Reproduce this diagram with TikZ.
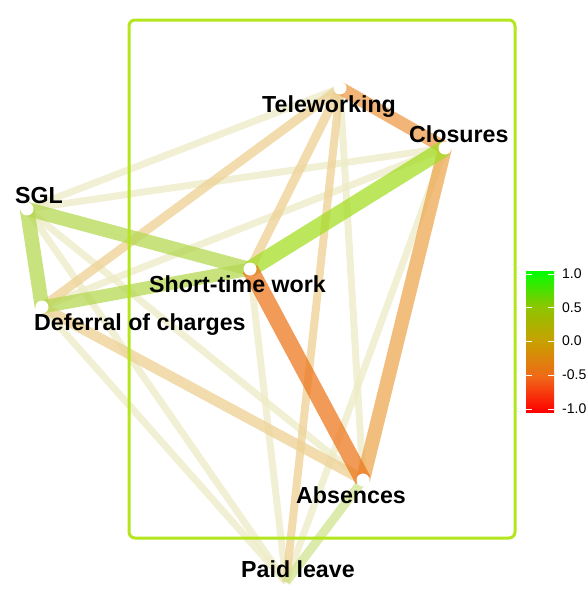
\documentclass[tikz,border=0pt]{standalone}
\usepackage{fontspec}
\setmainfont{Liberation Sans}
\usetikzlibrary{calc}

\definecolor{framegreen}{HTML}{B4E61E}
\definecolor{negstrong}{HTML}{ED7820}
\definecolor{negmid}{HTML}{ED9B49}
\definecolor{negsoft}{HTML}{EDA853}
\definecolor{posstrong}{HTML}{A5DD26}
\definecolor{posmid}{HTML}{B5D853}
\definecolor{possoft}{HTML}{D0E490}
\definecolor{tanweak}{HTML}{EDD093}
\definecolor{faintweak}{HTML}{EDEBC5}
\definecolor{cbpos}{HTML}{8CC600}
\definecolor{cbzero}{HTML}{C8A000}
\definecolor{cbneg}{HTML}{F06818}

\pgfdeclareverticalshading{corrbar}{100bp}{color(0bp)=(red); color(25bp)=(red);
  color(37.5bp)=(cbneg); color(50bp)=(cbzero); color(62.5bp)=(cbpos);
  color(75bp)=(green); color(100bp)=(green)}

\begin{document}
\begin{tikzpicture}[x=1pt,y=-1pt,
    corr/.style 2 args={draw=#1,line width=#2,draw opacity=0.75},
    vtx/.style={circle,fill=white,inner sep=0pt,minimum size=12pt},
    lbl/.style={font=\fontsize{23.2}{27}\selectfont\bfseries,inner sep=0pt,anchor=base west},
    tick/.style={white,line width=0.6pt}]
  \useasboundingbox (0,0) rectangle (588,600);

  % node positions
  \node[vtx] (tele) at (340,88) {};
  \node[vtx] (clos) at (445,148) {};
  \node[vtx] (sgl)  at (27,209) {};
  \node[vtx] (stw)  at (250,269) {};
  \node[vtx] (defc) at (42,307) {};
  \node[vtx] (abs)  at (363,480) {};
  \coordinate (paid) at (286,582);

  % weak correlations
  \foreach \a/\b in {tele/abs,clos/paid,stw/paid,sgl/abs,sgl/paid,defc/paid,clos/defc,clos/sgl,tele/sgl}
    \draw[corr={faintweak}{7pt}] (\a.center) -- (\b.center);
  \foreach \a/\b/\w in {tele/paid/8pt,tele/stw/9pt,tele/defc/9pt,defc/abs/10.5pt}
    \draw[corr={tanweak}{\w}] (\a.center) -- (\b.center);
  \draw[corr={possoft}{9pt}] (abs.center) -- (paid);

  % strong correlations
  \draw[corr={negmid}{13pt}] (tele.center) -- (clos.center);
  \draw[corr={negsoft}{14pt}] (clos.center) -- (abs.center);
  \draw[corr={posmid}{14.5pt}] (sgl.center) -- (defc.center);
  \draw[corr={posmid}{14pt}] (sgl.center) -- (stw.center);
  \draw[corr={posmid}{13pt}] (defc.center) -- (stw.center);
  \draw[corr={posstrong}{16.5pt}] (clos.center) -- (stw.center);
  \draw[corr={negstrong}{16.5pt}] (stw.center) -- (abs.center);

  % frame
  \draw[framegreen,line width=3pt,rounded corners=6pt] (129,20) rectangle (515,538);

  % dots on top
  \foreach \n in {tele,clos,sgl,stw,defc,abs}
    \fill[white] (\n) circle (6.5pt);

  % labels
  \node[lbl] (teletxt) at (262,112) {Teleworking};
  \node[lbl] (clostxt) at (409,142) {Closures};
  \node[lbl] (sgltxt)  at (15,203) {SGL};
  \node[lbl] (stwtxt)  at (149,292) {Short-time work};
  \node[lbl] (defctxt) at (34,330) {Deferral of charges};
  \node[lbl] (abstxt)  at (296,503) {Absences};
  \node[lbl] (paidtxt) at (241,577) {Paid leave};

  % colour bar
  \shade[shading=corrbar] (526,271) rectangle (554,412);
  \foreach \v/\y in {1.0/274,0.5/307.5,0.0/341,-0.5/375,-1.0/409} {
    \draw[tick] (526,\y) -- (532,\y);
    \draw[tick] (548,\y) -- (554,\y);
    \node[font=\fontsize{14}{16}\selectfont,anchor=west,inner sep=0pt] at (562,\y) {\v};
  }
\end{tikzpicture}
\end{document}
